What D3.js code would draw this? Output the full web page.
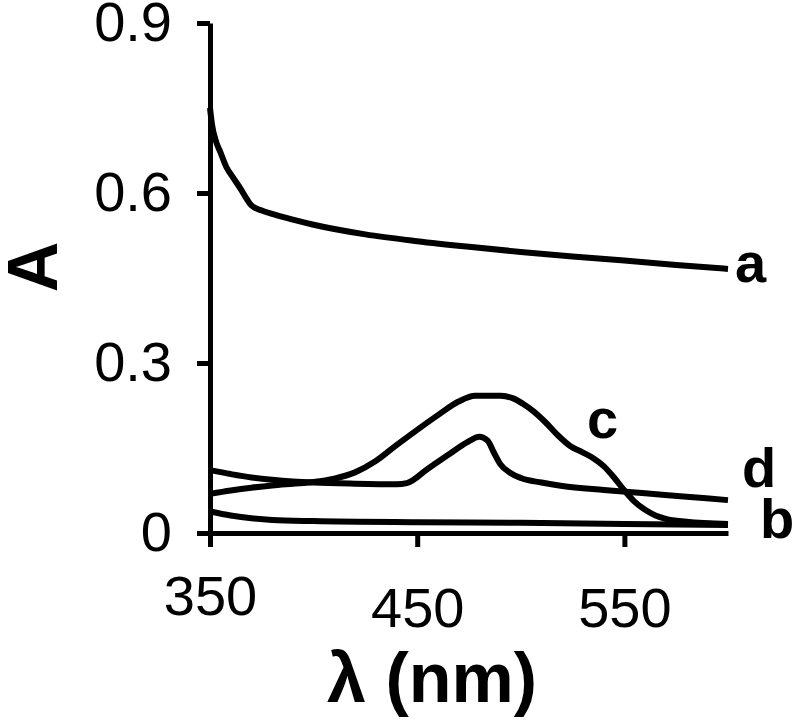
<!DOCTYPE html>
<html>
<head>
<meta charset="utf-8">
<script src="https://cdn.jsdelivr.net/npm/d3@7"></script>
<style>
  body { margin: 0; background: #fff; }
  text { font-family: "Liberation Sans", Arial, sans-serif; fill: #000; }
</style>
</head>
<body>
<svg id="chart" width="795" height="720"></svg>
<script>
// wavelength (nm) / absorbance pairs
const seriesA = [[350,0.75],[351,0.72],[353,0.69],[355,0.672],[358,0.645],[361,0.628],[365,0.606],[368,0.588],[370,0.578],[375,0.569],[380,0.563],[390,0.553],[400,0.544],[425,0.527],[450,0.515],[475,0.505],[500,0.496],[525,0.488],[550,0.481],[575,0.473],[600,0.466]]
const seriesB = [[350,0.038],[360,0.031],[370,0.026],[380,0.023],[400,0.021],[450,0.019],[500,0.018],[550,0.016],[600,0.014]]
const seriesC = [[350,0.069],[360,0.075],[370,0.080],[380,0.084],[390,0.087],[400,0.090],[410,0.096],[420,0.107],[430,0.127],[440,0.155],[450,0.182],[460,0.208],[470,0.232],[478,0.242],[490,0.242],[496,0.238],[501,0.228],[506,0.215],[512,0.195],[518,0.172],[524,0.153],[530,0.142],[535,0.132],[540,0.118],[545,0.098],[550,0.075],[555,0.055],[560,0.041],[565,0.031],[570,0.025],[580,0.020],[600,0.016]]
const seriesD = [[350,0.111],[360,0.104],[370,0.098],[380,0.094],[390,0.091],[400,0.089],[420,0.087],[440,0.086],[445,0.088],[455,0.113],[465,0.138],[474,0.160],[480,0.170],[484,0.163],[487,0.142],[490,0.122],[495,0.106],[500,0.097],[510,0.089],[520,0.083],[540,0.076],[560,0.070],[580,0.064],[600,0.058]]

const curveLabels = [
    { text: 'a', x: 735, y: 282 },
    { text: 'c', x: 587, y: 438 },
    { text: 'd', x: 742, y: 487 },
    { text: 'b', x: 760, y: 538 }
]

const xTicks = [350, 450, 550]
const yTicks = [0, 0.3, 0.6, 0.9]

const svg = d3.select('#chart')

const x = d3.scaleLinear().domain([350, 600]).range([210, 728])
const y = d3.scaleLinear().domain([0, 0.9]).range([533, 23])

const line = d3.line()
    .x(d => x(d[0]))
    .y(d => y(d[1]))
    .curve(d3.curveMonotoneX)

svg.selectAll('.curve')
    .data([seriesA, seriesB, seriesC, seriesD])
    .enter().append('path')
    .attr('class', 'curve')
    .attr('d', line)
    .attr('fill', 'none')
    .attr('stroke', '#000')
    .attr('stroke-width', 6)
    .attr('stroke-linejoin', 'round')

const xAxis = svg.append('g')
    .attr('transform', `translate(0, ${y(0)})`)
    .call(d3.axisBottom(x).tickValues(xTicks).tickSize(14).tickSizeOuter(0).tickPadding(40))

const yAxis = svg.append('g')
    .attr('transform', `translate(${x(350)}, 0)`)
    .call(d3.axisLeft(y).tickValues(yTicks).tickSize(13).tickSizeOuter(0).tickPadding(25)
        .tickFormat(d => d === 0 ? '0' : d3.format('.1f')(d)))

;[xAxis, yAxis].forEach(g => {
    g.select('.domain').attr('stroke-width', 5)
    g.selectAll('.tick line').attr('stroke-width', 5)
    g.selectAll('text')
        .style('font-family', '"Liberation Sans", Arial, sans-serif')
        .style('font-size', '56px')
        .attr('fill', '#000')
})

// the 350 label sits a little higher in the original
xAxis.selectAll('.tick text').filter(d => d === 350).attr('y', 42)

svg.append('text')
    .attr('transform', 'translate(57, 267) rotate(-90)')
    .attr('text-anchor', 'middle')
    .style('font-size', '70px')
    .style('font-weight', 'bold')
    .text('A')

svg.append('text')
    .attr('x', 432)
    .attr('y', 702)
    .attr('text-anchor', 'middle')
    .style('font-size', '70px')
    .style('font-weight', 'bold')
    .text('λ (nm)')

svg.selectAll('.label')
    .data(curveLabels)
    .enter().append('text')
    .attr('class', 'label')
    .attr('x', d => d.x)
    .attr('y', d => d.y)
    .style('font-size', '56px')
    .style('font-weight', 'bold')
    .text(d => d.text)
</script>
</body>
</html>
